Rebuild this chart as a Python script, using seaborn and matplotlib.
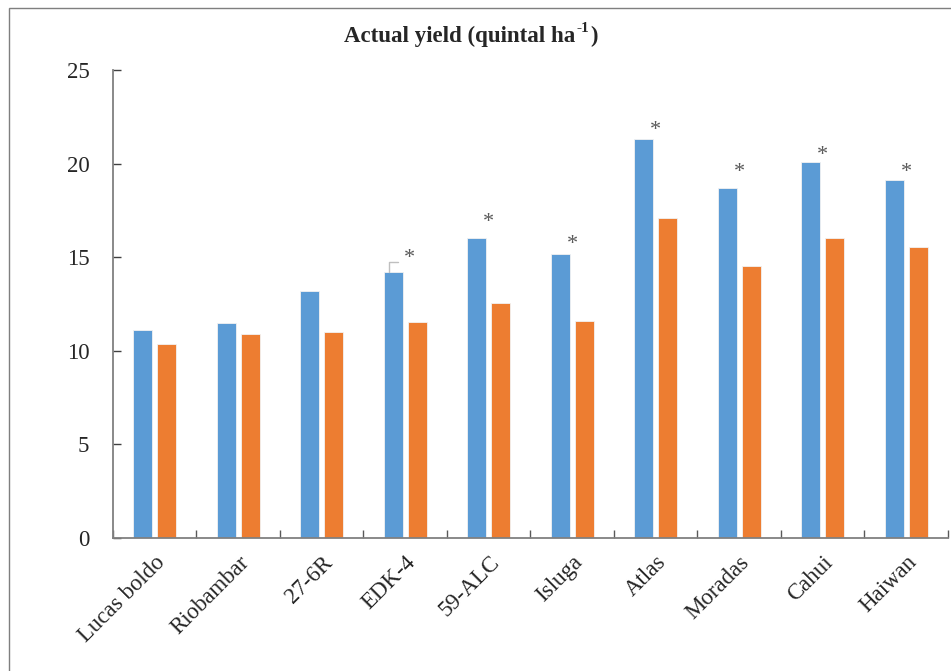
import numpy as np
import pandas as pd
import matplotlib
matplotlib.use('Agg')
import matplotlib.pyplot as plt
import seaborn as sns
from matplotlib.patches import Rectangle

# Values
varieties = ['Lucas boldo', 'Riobambar', '27-6R', 'EDK-4', '59-ALC',
             'Isluga', 'Atlas', 'Moradas', 'Cahui', 'Haiwan']
yield_a = [11.1, 11.5, 13.2, 14.2, 16.05, 15.15, 21.3, 18.7, 20.1, 19.15]
yield_b = [10.35, 10.9, 11.0, 11.55, 12.55, 11.6, 17.1, 14.55, 16.05, 15.55]
series_names = ['A', 'B']
# significance marks (variety, height of asterisk)
star_varieties = ['EDK-4', '59-ALC', 'Isluga', 'Atlas', 'Moradas', 'Cahui', 'Haiwan']
star_heights = [14.95, 16.85, 15.7, 21.75, 19.5, 20.45, 19.5]

df = pd.DataFrame({
    'variety': varieties * 2,
    'yield': yield_a + yield_b,
    'series': [series_names[0]] * len(varieties) + [series_names[1]] * len(varieties),
})

sns.set_style('white')
plt.rcParams['font.family'] = ['Liberation Serif', 'DejaVu Serif']

fig = plt.figure(figsize=(9.51, 6.71), dpi=100)
ax = fig.add_axes([0.1188, 0.1982, 0.878, 0.6975])

sns.barplot(data=df, x='variety', y='yield', hue='series', order=varieties,
            palette=['#5B9BD5', '#ED7D31'], saturation=1, width=0.57, gap=0.2,
            edgecolor='#f2f2f2', linewidth=0.6, legend=False, ax=ax)

ax.set_ylim(0, 25)
ax.set_xlim(-0.5, len(varieties) - 0.5)
ax.set_yticks([0, 5, 10, 15, 20, 25])
ax.set_xlabel('')
ax.set_ylabel('')

ax.set_xticks(range(len(varieties)))
ax.set_xticklabels(varieties, rotation=45, ha='right', rotation_mode='anchor', fontsize=16.5)
# category boundary ticks on x axis
ax.set_xticks(np.arange(-0.5, len(varieties), 1.0), minor=True)
ax.tick_params(axis='x', which='minor', bottom=True, direction='in', length=6, width=1, color='#595959')
ax.tick_params(axis='x', which='major', bottom=True, length=0, pad=10)
ax.tick_params(axis='y', left=True, direction='in', length=6, width=1, color='#404040', pad=17)
for lab in ax.get_yticklabels():
    lab.set_fontsize(16.5)

sns.despine(ax=ax)
for side in ['left', 'bottom']:
    ax.spines[side].set_color('#808080')
    ax.spines[side].set_linewidth(1.3)

# asterisks
for v, h in zip(star_varieties, star_heights):
    xi = varieties.index(v)
    xs = xi + 0.05 if v == 'EDK-4' else xi
    ax.text(xs, h, '*', ha='center', va='center', fontsize=16, color='#595959')

# leader line for EDK-4
i = varieties.index('EDK-4')
bx = i - 0.2
ax.plot([bx, bx, bx + 0.11], [yield_a[i], yield_a[i] + 0.55, yield_a[i] + 0.55],
        color='#bfbfbf', lw=1)

# title with superscript, built from pieces
renderer = fig.canvas.get_renderer()
ty = 0.945
parts = fig.text(0.362, ty, 'Actual yield (quintal ha', ha='left', va='center',
                 fontsize=16.5, fontweight='bold')
bb = parts.get_window_extent(renderer).transformed(fig.transFigure.inverted())
sup = fig.text(bb.x1 + 0.001, ty + 0.012, '-1', ha='left', va='center',
               fontsize=11, fontweight='bold')
bb2 = sup.get_window_extent(renderer).transformed(fig.transFigure.inverted())
fig.text(bb2.x1 + 0.001, ty, ')', ha='left', va='center', fontsize=16.5, fontweight='bold')

fig.patches.append(Rectangle((9 / 951, -0.1), 1.2, 1 - 8 / 671 + 0.1,
                             transform=fig.transFigure, fill=False,
                             edgecolor='#7f7f7f', lw=1))

fig.savefig('out.png', dpi=100)
